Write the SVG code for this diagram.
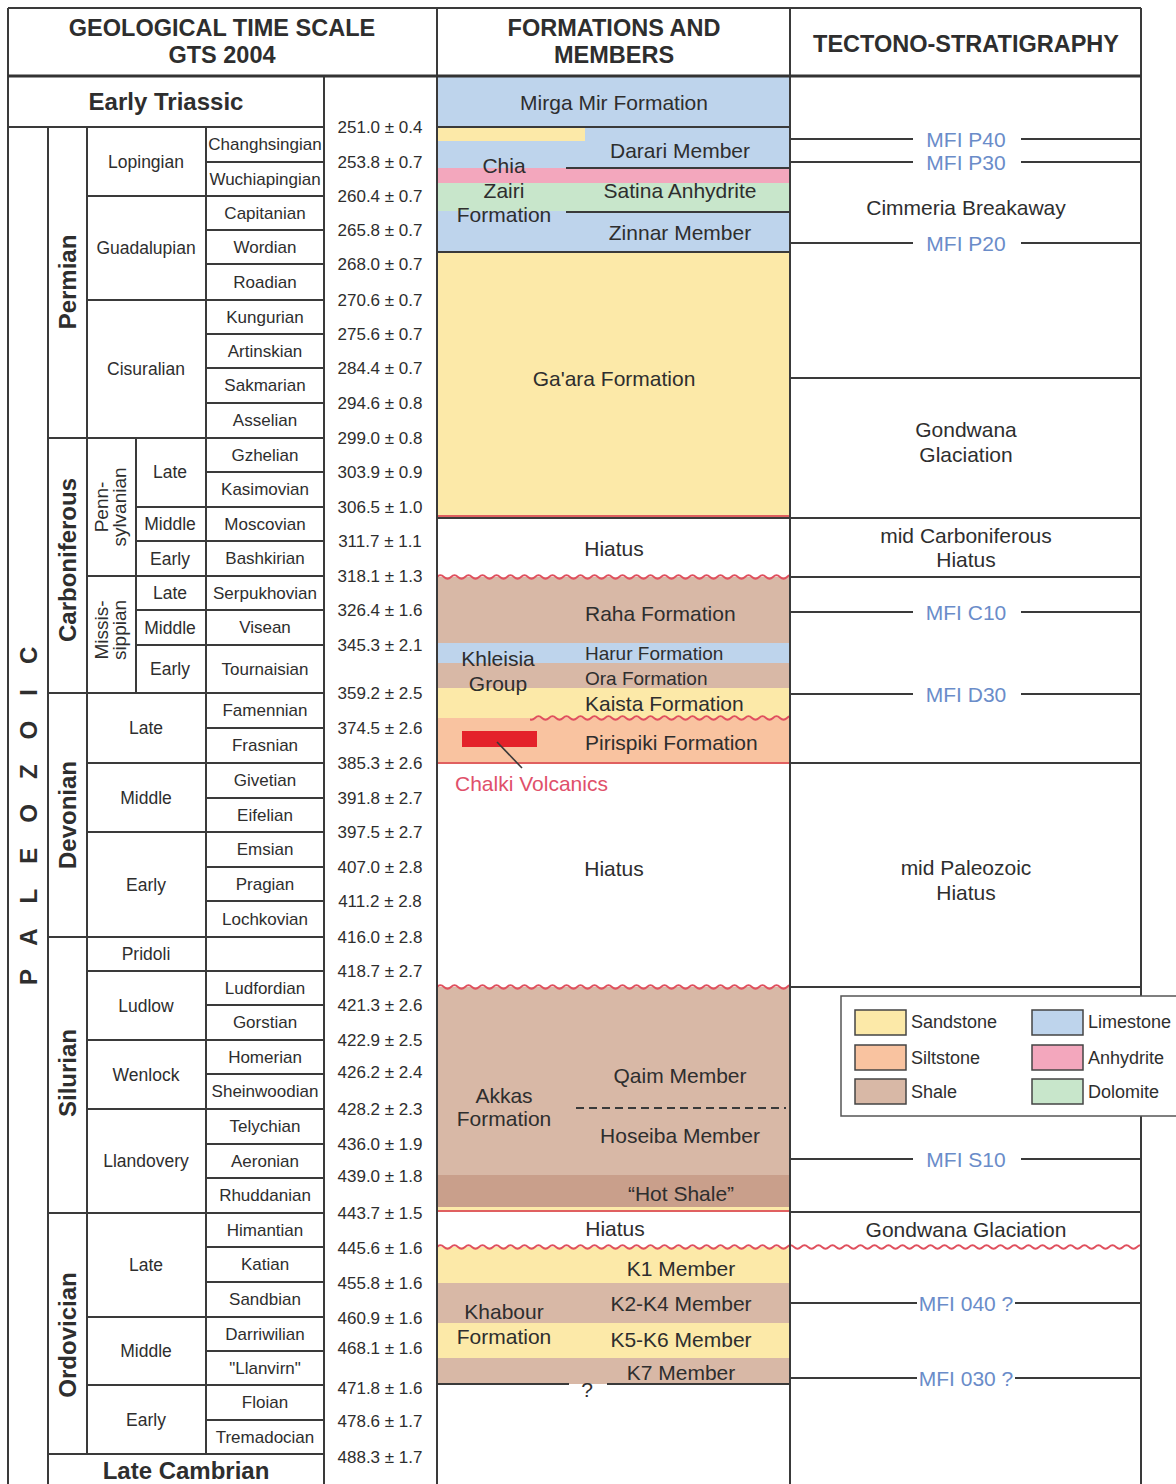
<svg xmlns="http://www.w3.org/2000/svg" width="1176" height="1484" viewBox="0 0 1176 1484">
<style>
text{font-family:"Liberation Sans",Arial,sans-serif;fill:#2e2e2e;dominant-baseline:central}
.hd{font-size:23.5px;font-weight:bold;text-anchor:middle}
.bd{font-size:24px;font-weight:bold;text-anchor:middle}
.ep{font-size:17.5px;text-anchor:middle}
.st{font-size:17px;text-anchor:middle}
.ag{font-size:17px;text-anchor:middle}
.fm{font-size:21px;text-anchor:middle}
.fl{font-size:21px}
.fs{font-size:19px}
.tc{font-size:21px;text-anchor:middle}
.mfi{font-size:21px;text-anchor:middle;fill:#6a8cc9}
.lg{font-size:18px}
.rt{font-size:19px;text-anchor:middle}
.gl{stroke:#3a3a3a;stroke-width:2;fill:none}
.sand{fill:#fce9a8}.lime{fill:#bed4ec}.silt{fill:#f9c3a0}.shale{fill:#d8b8a6}.anhy{fill:#f3a7bd}.dolo{fill:#c8e6cb}.hot{fill:#c99f8b}
.wave{stroke:#e0505e;stroke-width:1.8;fill:none}
.red{stroke:#e06060;stroke-width:2;fill:none}
.sw{stroke:#444;stroke-width:1.5}
</style>
<defs>
<path id="wv" d="M0,0 q3.5,-3.5 7,0 t7,0 t7,0 t7,0 t7,0 t7,0 t7,0 t7,0 t7,0 t7,0 t7,0 t7,0 t7,0 t7,0 t7,0 t7,0 t7,0 t7,0 t7,0 t7,0 t7,0 t7,0 t7,0 t7,0 t7,0 t7,0 t7,0 t7,0 t7,0 t7,0 t7,0 t7,0 t7,0 t7,0 t7,0 t7,0 t7,0 t7,0 t7,0 t7,0 t7,0 t7,0 t7,0 t7,0 t7,0 t7,0 t7,0 t7,0 t7,0 t7,0 t7,0 t7,0 t7,0 t7,0 t7,0 t7,0 t7,0 t7,0 t7,0 t7,0 t7,0 t7,0 t7,0 t7,0 t7,0 t7,0 t7,0 t7,0 t7,0 t7,0 t7,0 t7,0 t7,0 t7,0 t7,0 t7,0 t7,0 t7,0 t7,0 t7,0 t7,0 t7,0 t7,0 t7,0 t7,0 t7,0 t7,0 t7,0 t7,0 t7,0 t7,0 t7,0 t7,0 t7,0 t7,0 t7,0 t7,0 t7,0 t7,0 t7,0 t7,0 t7,0 t7,0 t7,0 t7,0 t7,0 t7,0 t7,0"/>
<clipPath id="cf"><rect x="437" y="0" width="353" height="1484"/></clipPath>
<clipPath id="ck"><rect x="530" y="0" width="260" height="1484"/></clipPath>
<clipPath id="cw"><rect x="437" y="0" width="704" height="1484"/></clipPath>
</defs>
<rect width="1176" height="1484" fill="#fff"/>

<g id="formation-fills">
<rect class="lime" x="437" y="76" width="353" height="51"/>
<rect class="lime" x="437" y="127" width="353" height="125"/>
<rect class="sand" x="437" y="127" width="148" height="14"/>
<rect class="anhy" x="437" y="168" width="353" height="15"/>
<rect class="dolo" x="437" y="183" width="353" height="28"/>
<rect class="sand" x="437" y="252" width="353" height="266"/>
<rect class="shale" x="437" y="577" width="353" height="66"/>
<rect class="lime" x="437" y="643" width="353" height="20"/>
<rect class="shale" x="437" y="663" width="353" height="25"/>
<rect class="sand" x="437" y="688" width="353" height="30"/>
<rect class="silt" x="437" y="718" width="353" height="45"/>
<rect class="shale" x="437" y="987" width="353" height="188"/>
<rect class="hot" x="437" y="1175" width="353" height="32"/>
<rect class="sand" x="437" y="1207" width="353" height="4"/>
<rect class="sand" x="437" y="1247" width="353" height="36"/>
<rect class="shale" x="437" y="1283" width="353" height="40"/>
<rect class="sand" x="437" y="1323" width="353" height="35"/>
<rect class="shale" x="437" y="1358" width="353" height="26"/>
</g>

<g id="grid">
<path class="gl" d="M8,127H324 M206,162H324 M206,230H324 M206,264H324 M206,334H324 M206,368H324 M206,403H324 M206,472H324 M206,728H324 M206,798H324 M206,867H324 M206,901H324 M206,1005H324 M206,1074H324 M206,1144H324 M206,1178H324 M206,1247H324 M206,1282H324 M206,1351H324 M206,1420H324 M136,507H324 M136,541H324 M136,610H324 M136,645H324 M87,196H324 M87,300H324 M87,576H324 M87,763H324 M87,832H324 M87,971H324 M87,1040H324 M87,1109H324 M87,1317H324 M87,1385H324 M48,438H324 M48,693H324 M48,937H324 M48,1213H324 M48,1454H324 M48,127V1484 M87,127V1454 M136,438V693 M206,127V1454 M324,76V1484"/>
<path class="gl" d="M437,127H790 M437,252H790 M437,518H1141 M566,168H790 M566,212H790 M790,378H1141 M790,577H1141 M790,763H1141 M790,987H1141 M790,1212H1141 M437,1384H569 M607,1384H790"/>
<path class="red" d="M437,516H790 M437,763H790 M437,1211H790" stroke-width="1.6"/>
<path d="M576,1108H786" stroke="#3a3a3a" stroke-width="2" stroke-dasharray="8,5"/>
<g clip-path="url(#cf)"><use href="#wv" x="437" y="577" class="wave"/></g>
<g clip-path="url(#ck)"><use href="#wv" x="437" y="718" class="wave"/></g>
<g clip-path="url(#cf)"><use href="#wv" x="437" y="987" class="wave"/></g>
<g clip-path="url(#cw)"><use href="#wv" x="437" y="1247" class="wave"/></g>
<path class="gl" d="M8,8H1141 M8,8V1484 M437,8V1484 M790,8V1484 M1141,8V1484"/>
<path d="M8,76H1141" stroke="#333" stroke-width="3"/>
</g>

<g id="headers">
<text class="hd" x="222" y="28">GEOLOGICAL TIME SCALE</text>
<text class="hd" x="222" y="55">GTS 2004</text>
<text class="hd" x="614" y="28">FORMATIONS AND</text>
<text class="hd" x="614" y="55">MEMBERS</text>
<text class="hd" x="966" y="44">TECTONO-STRATIGRAPHY</text>
</g>

<g id="eras">
<text class="bd" x="166" y="101">Early Triassic</text>
<text class="bd" x="186" y="1470">Late Cambrian</text>
<text x="0" y="0" transform="translate(28,985) rotate(-90)" style="font-size:24px;font-weight:bold;letter-spacing:25px">PALEOZOIC</text>
</g>

<g id="periods">
<text class="bd" transform="translate(67,282) rotate(-90)">Permian</text>
<text class="bd" transform="translate(67,560) rotate(-90)">Carboniferous</text>
<text class="bd" transform="translate(67,815) rotate(-90)">Devonian</text>
<text class="bd" transform="translate(67,1073) rotate(-90)">Silurian</text>
<text class="bd" transform="translate(67,1335) rotate(-90)">Ordovician</text>
<g transform="translate(110,507) rotate(-90)"><text class="rt" y="-9">Penn-</text><text class="rt" y="9">sylvanian</text></g>
<g transform="translate(110,630) rotate(-90)"><text class="rt" y="-9">Missis-</text><text class="rt" y="9">sippian</text></g>
</g>

<g id="epochs">
<text class="ep" x="146" y="161.5">Lopingian</text>
<text class="ep" x="146" y="248">Guadalupian</text>
<text class="ep" x="146" y="369">Cisuralian</text>
<text class="ep" x="170" y="472">Late</text>
<text class="ep" x="170" y="524">Middle</text>
<text class="ep" x="170" y="558.5">Early</text>
<text class="ep" x="170" y="593">Late</text>
<text class="ep" x="170" y="627.5">Middle</text>
<text class="ep" x="170" y="669">Early</text>
<text class="ep" x="146" y="728">Late</text>
<text class="ep" x="146" y="797.5">Middle</text>
<text class="ep" x="146" y="884.5">Early</text>
<text class="ep" x="146" y="954">Pridoli</text>
<text class="ep" x="146" y="1005.5">Ludlow</text>
<text class="ep" x="146" y="1074.5">Wenlock</text>
<text class="ep" x="146" y="1161">Llandovery</text>
<text class="ep" x="146" y="1265">Late</text>
<text class="ep" x="146" y="1351">Middle</text>
<text class="ep" x="146" y="1419.5">Early</text>
</g>

<g id="stages">
<text class="st" x="265" y="144.5">Changhsingian</text>
<text class="st" x="265" y="179">Wuchiapingian</text>
<text class="st" x="265" y="213">Capitanian</text>
<text class="st" x="265" y="247">Wordian</text>
<text class="st" x="265" y="282">Roadian</text>
<text class="st" x="265" y="317">Kungurian</text>
<text class="st" x="265" y="351">Artinskian</text>
<text class="st" x="265" y="385.5">Sakmarian</text>
<text class="st" x="265" y="420.5">Asselian</text>
<text class="st" x="265" y="455">Gzhelian</text>
<text class="st" x="265" y="489.5">Kasimovian</text>
<text class="st" x="265" y="524">Moscovian</text>
<text class="st" x="265" y="558.5">Bashkirian</text>
<text class="st" x="265" y="593">Serpukhovian</text>
<text class="st" x="265" y="627.5">Visean</text>
<text class="st" x="265" y="669">Tournaisian</text>
<text class="st" x="265" y="710.5">Famennian</text>
<text class="st" x="265" y="745.5">Frasnian</text>
<text class="st" x="265" y="780.5">Givetian</text>
<text class="st" x="265" y="815">Eifelian</text>
<text class="st" x="265" y="849.5">Emsian</text>
<text class="st" x="265" y="884">Pragian</text>
<text class="st" x="265" y="919">Lochkovian</text>
<text class="st" x="265" y="988">Ludfordian</text>
<text class="st" x="265" y="1022.5">Gorstian</text>
<text class="st" x="265" y="1057">Homerian</text>
<text class="st" x="265" y="1091.5">Sheinwoodian</text>
<text class="st" x="265" y="1126.5">Telychian</text>
<text class="st" x="265" y="1161">Aeronian</text>
<text class="st" x="265" y="1195.5">Rhuddanian</text>
<text class="st" x="265" y="1230">Himantian</text>
<text class="st" x="265" y="1264.5">Katian</text>
<text class="st" x="265" y="1299.5">Sandbian</text>
<text class="st" x="265" y="1334">Darriwilian</text>
<text class="st" x="265" y="1368">"Llanvirn"</text>
<text class="st" x="265" y="1402.5">Floian</text>
<text class="st" x="265" y="1437">Tremadocian</text>
</g>

<g id="ages">
<text class="ag" x="380" y="127">251.0 ± 0.4</text>
<text class="ag" x="380" y="162">253.8 ± 0.7</text>
<text class="ag" x="380" y="196">260.4 ± 0.7</text>
<text class="ag" x="380" y="230">265.8 ± 0.7</text>
<text class="ag" x="380" y="264">268.0 ± 0.7</text>
<text class="ag" x="380" y="300">270.6 ± 0.7</text>
<text class="ag" x="380" y="334">275.6 ± 0.7</text>
<text class="ag" x="380" y="368">284.4 ± 0.7</text>
<text class="ag" x="380" y="403">294.6 ± 0.8</text>
<text class="ag" x="380" y="438">299.0 ± 0.8</text>
<text class="ag" x="380" y="472">303.9 ± 0.9</text>
<text class="ag" x="380" y="507">306.5 ± 1.0</text>
<text class="ag" x="380" y="541">311.7 ± 1.1</text>
<text class="ag" x="380" y="576">318.1 ± 1.3</text>
<text class="ag" x="380" y="610">326.4 ± 1.6</text>
<text class="ag" x="380" y="645">345.3 ± 2.1</text>
<text class="ag" x="380" y="693">359.2 ± 2.5</text>
<text class="ag" x="380" y="728">374.5 ± 2.6</text>
<text class="ag" x="380" y="763">385.3 ± 2.6</text>
<text class="ag" x="380" y="798">391.8 ± 2.7</text>
<text class="ag" x="380" y="832">397.5 ± 2.7</text>
<text class="ag" x="380" y="867">407.0 ± 2.8</text>
<text class="ag" x="380" y="901">411.2 ± 2.8</text>
<text class="ag" x="380" y="937">416.0 ± 2.8</text>
<text class="ag" x="380" y="971">418.7 ± 2.7</text>
<text class="ag" x="380" y="1005">421.3 ± 2.6</text>
<text class="ag" x="380" y="1040">422.9 ± 2.5</text>
<text class="ag" x="380" y="1072">426.2 ± 2.4</text>
<text class="ag" x="380" y="1109">428.2 ± 2.3</text>
<text class="ag" x="380" y="1144">436.0 ± 1.9</text>
<text class="ag" x="380" y="1176">439.0 ± 1.8</text>
<text class="ag" x="380" y="1213">443.7 ± 1.5</text>
<text class="ag" x="380" y="1248">445.6 ± 1.6</text>
<text class="ag" x="380" y="1283">455.8 ± 1.6</text>
<text class="ag" x="380" y="1318">460.9 ± 1.6</text>
<text class="ag" x="380" y="1348">468.1 ± 1.6</text>
<text class="ag" x="380" y="1388">471.8 ± 1.6</text>
<text class="ag" x="380" y="1421">478.6 ± 1.7</text>
<text class="ag" x="380" y="1457">488.3 ± 1.7</text>
</g>

<g id="formations">
<text class="fm" x="614" y="102">Mirga Mir Formation</text>
<text class="fm" x="680" y="150">Darari Member</text>
<text class="fm" x="504" y="165">Chia</text>
<text class="fm" x="504" y="190">Zairi</text>
<text class="fm" x="504" y="214">Formation</text>
<text class="fm" x="680" y="190">Satina Anhydrite</text>
<text class="fm" x="680" y="232">Zinnar Member</text>
<text class="fm" x="614" y="378">Ga'ara Formation</text>
<text class="fm" x="614" y="548">Hiatus</text>
<text class="fl" x="585" y="613">Raha Formation</text>
<text class="fm" x="498" y="658">Khleisia</text>
<text class="fm" x="498" y="683">Group</text>
<text class="fs" x="585" y="653">Harur Formation</text>
<text class="fs" x="585" y="678">Ora Formation</text>
<text class="fl" x="585" y="703">Kaista Formation</text>
<text class="fl" x="585" y="742">Pirispiki Formation</text>
<rect x="462" y="731" width="75" height="16" fill="#e4222a"/>
<text class="fl" x="455" y="783" style="fill:#e0506a">Chalki Volcanics</text>
<text class="fm" x="614" y="868">Hiatus</text>
<text class="fm" x="680" y="1075">Qaim Member</text>
<text class="fm" x="504" y="1095">Akkas</text>
<text class="fm" x="504" y="1118">Formation</text>
<text class="fm" x="680" y="1135">Hoseiba Member</text>
<text class="fm" x="681" y="1193">“Hot Shale”</text>
<text class="fm" x="615" y="1228">Hiatus</text>
<text class="fm" x="681" y="1268">K1 Member</text>
<text class="fm" x="681" y="1303">K2-K4 Member</text>
<text class="fm" x="504" y="1311">Khabour</text>
<text class="fm" x="504" y="1336">Formation</text>
<text class="fm" x="681" y="1339">K5-K6 Member</text>
<text class="fm" x="681" y="1372">K7 Member</text>
<text class="fm" x="587" y="1389">?</text>
</g>

<g id="tectono">
<text class="mfi" x="966" y="139">MFI P40</text>
<text class="mfi" x="966" y="162">MFI P30</text>
<text class="tc" x="966" y="207">Cimmeria Breakaway</text>
<text class="mfi" x="966" y="243">MFI P20</text>
<text class="tc" x="966" y="429">Gondwana</text>
<text class="tc" x="966" y="454">Glaciation</text>
<text class="tc" x="966" y="535">mid Carboniferous</text>
<text class="tc" x="966" y="559">Hiatus</text>
<text class="mfi" x="966" y="612">MFI C10</text>
<text class="mfi" x="966" y="694">MFI D30</text>
<text class="tc" x="966" y="867">mid Paleozoic</text>
<text class="tc" x="966" y="892">Hiatus</text>
<text class="mfi" x="966" y="1159">MFI S10</text>
<text class="tc" x="966" y="1229">Gondwana Glaciation</text>
<text class="mfi" x="966" y="1303">MFI 040 ?</text>
<text class="mfi" x="966" y="1378">MFI 030 ?</text>
</g>

<g id="connectors">
<path class="gl" d="M790,139H913 M1021,139H1141 M790,162H913 M1021,162H1141 M790,243H913 M1021,243H1141 M790,612H913 M1021,612H1141 M790,694H913 M1021,694H1141 M790,1159H913 M1021,1159H1141 M790,1303H917 M1015,1303H1141 M790,1378H917 M1015,1378H1141"/>
<path d="M497,742L522,768" stroke="#3a3a3a" stroke-width="1.6"/>
</g>

<g id="legend">
<rect x="841" y="996" width="345" height="120" fill="#fff" stroke="#555" stroke-width="1.5"/>
<rect class="sand sw" x="855" y="1010" width="51" height="25"/>
<rect class="silt sw" x="855" y="1045" width="51" height="25"/>
<rect class="shale sw" x="855" y="1079" width="51" height="25"/>
<rect class="lime sw" x="1032" y="1010" width="51" height="25"/>
<rect class="anhy sw" x="1032" y="1045" width="51" height="25"/>
<rect class="dolo sw" x="1032" y="1079" width="51" height="25"/>
<text class="lg" x="911" y="1022">Sandstone</text>
<text class="lg" x="911" y="1058">Siltstone</text>
<text class="lg" x="911" y="1092">Shale</text>
<text class="lg" x="1088" y="1022">Limestone</text>
<text class="lg" x="1088" y="1058">Anhydrite</text>
<text class="lg" x="1088" y="1092">Dolomite</text>
</g>
</svg>
